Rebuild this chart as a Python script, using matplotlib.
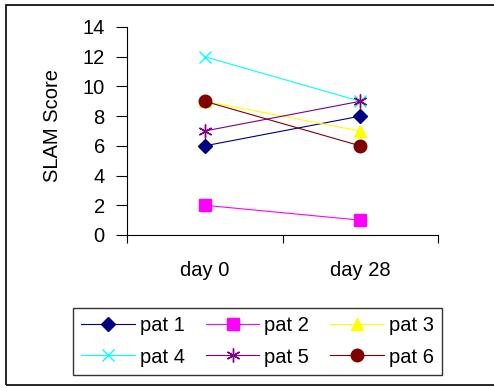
import matplotlib
matplotlib.use("Agg")
import matplotlib.pyplot as plt
from matplotlib.patches import Rectangle

plt.rcParams["font.family"] = ["Liberation Sans", "DejaVu Sans"]

days = ["day 0", "day 28"]
patients = ["pat 1", "pat 2", "pat 3", "pat 4", "pat 5", "pat 6"]
pat1 = [6, 8]
pat2 = [2, 1]
pat3 = [9, 7]
pat4 = [12, 9]
pat5 = [7, 9]
pat6 = [9, 6]
series = [pat1, pat2, pat3, pat4, pat5, pat6]

colors = ["#000080", "#FF00FF", "#FFFF00", "#00FFFF", "#800080", "#800000"]
markers = ["D", "s", "^", "x", (6, 2, 0), "o"]
msizes = [7, 8, 8, 8, 10, 9]

W, H = 494, 388
fs = 14.5

fig = plt.figure(figsize=(W / 100, H / 100), dpi=100)
ax = fig.add_axes([127 / W, 1 - 235 / H, (438 - 127) / W, (235 - 27) / H])

handles = []
for name, vals, c, m, ms in zip(patients, series, colors, markers, msizes):
    h, = ax.plot(range(len(days)), vals, color=c, lw=0.8, marker=m, markersize=ms,
                 markeredgecolor=c, markerfacecolor=c, markeredgewidth=1.0, label=name)
    handles.append(h)

ax.set_xlim(-0.5, 1.5)
ax.set_ylim(0, 14)
ax.set_yticks(range(0, 15, 2))
# category boundaries get the tick marks, names sit between them
ax.set_xticks([-0.5, 0.5, 1.5])
ax.set_xticklabels([])
ax.set_xticks(range(len(days)), minor=True)
ax.set_xticklabels(days, minor=True)
ax.tick_params(axis="x", which="minor", length=0, pad=19, labelsize=fs)
ax.tick_params(axis="x", which="major", length=6, direction="out", width=0.8)
ax.tick_params(axis="y", length=8, direction="out", width=0.8, labelsize=fs, pad=8)
for side in ["top", "right"]:
    ax.spines[side].set_visible(False)
ax.spines["left"].set_linewidth(0.8)
ax.spines["bottom"].set_linewidth(0.8)
fig.text(52 / W, 1 - 126 / H, "SLAM Score", rotation=90, ha="center", va="center", fontsize=fs)

# excel fills the legend row by row
order = [0, 3, 1, 4, 2, 5]
leg = ax.legend([handles[i] for i in order], [patients[i] for i in order], ncol=3, loc="center",
                bbox_to_anchor=((72 + 443) / 2 / W, 1 - (304 + 379) / 2 / H),
                bbox_transform=fig.transFigure, fontsize=fs, frameon=True, fancybox=False,
                edgecolor="#333333", framealpha=1, handlelength=2.65, columnspacing=1.05,
                handletextpad=0.25, borderpad=0.4, labelspacing=0.6)
leg.get_frame().set_linewidth(1.0)

fig.patches.append(Rectangle((6 / W, 3 / H), 600 / W, 380 / H, transform=fig.transFigure,
                             fill=False, edgecolor="black", lw=1.2))

fig.savefig("out.png", dpi=100)
